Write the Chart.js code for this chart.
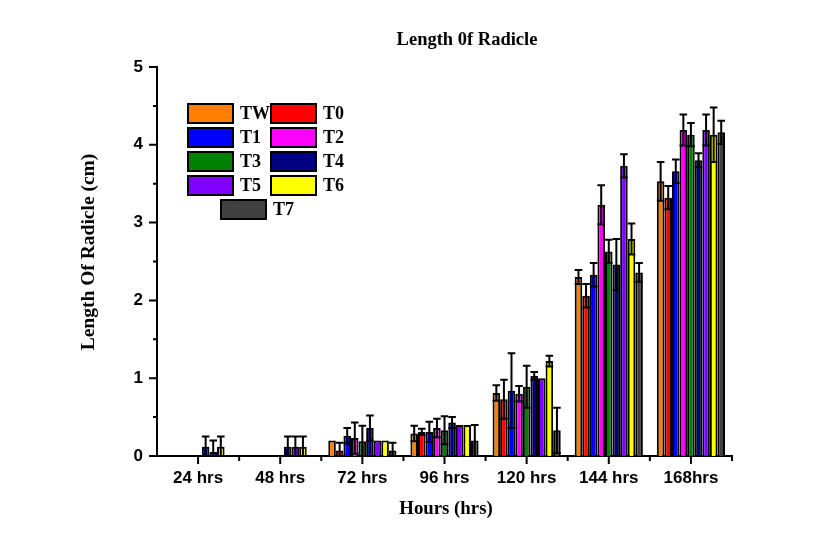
<!DOCTYPE html>
<html lang="en">
<head>
  <meta charset="UTF-8">
  <title>Length 0f Radicle</title>
  <script src="https://cdn.jsdelivr.net/npm/chart.js"></script>
  <style>
    html, body { margin: 0; padding: 0; background: #fff; }
    #wrap { position: relative; width: 838px; height: 539px; }
  </style>
</head>
<body>
  <div id="wrap">
    <canvas id="radicleChart" width="838" height="539"></canvas>
  </div>

  <script>
    // Categories and tick labels
    const hours = ['24 hrs', '48 hrs', '72 hrs', '96 hrs', '120 hrs', '144 hrs', '168hrs'];
    const yTicks = [0, 1, 2, 3, 4, 5];

    // Treatment names and colours
    const treatments = ['TW', 'T0', 'T1', 'T2', 'T3', 'T4', 'T5', 'T6', 'T7'];
    const colors = ['#ff8000', '#ff0000', '#0000ff', '#ff00ff', '#008000', '#000080', '#8000ff', '#ffff00', '#404040'];

    // Mean radicle length (cm), one array per treatment
    const lenTW = [0, 0, 0.20, 0.29, 0.81, 2.30, 3.53];
    const lenT0 = [0, 0, 0.07, 0.31, 0.73, 2.06, 3.32];
    const lenT1 = [0, 0, 0.26, 0.31, 0.84, 2.33, 3.66];
    const lenT2 = [0, 0, 0.23, 0.36, 0.80, 3.23, 4.19];
    const lenT3 = [0, 0, 0.19, 0.33, 0.89, 2.63, 4.13];
    const lenT4 = [0.12, 0.12, 0.36, 0.43, 1.03, 2.46, 3.80];
    const lenT5 = [0.05, 0.12, 0.20, 0.40, 1.00, 3.73, 4.19];
    const lenT6 = [0.12, 0.12, 0.20, 0.40, 1.22, 2.79, 4.13];
    const lenT7 = [0, 0, 0.07, 0.20, 0.33, 2.36, 4.16];

    // Error (± value) for each bar
    const errTW = [0, 0, 0, 0.10, 0.10, 0.09, 0.25];
    const errT0 = [0, 0, 0.10, 0.04, 0.25, 0.15, 0.15];
    const errT1 = [0, 0, 0.10, 0.13, 0.48, 0.15, 0.15];
    const errT2 = [0, 0, 0.20, 0.12, 0.10, 0.25, 0.20];
    const errT3 = [0, 0, 0.20, 0.18, 0.27, 0.15, 0.15];
    const errT4 = [0.13, 0.13, 0.16, 0.07, 0.05, 0.33, 0.09];
    const errT5 = [0.15, 0.13, 0, 0, 0, 0.15, 0.20];
    const errT6 = [0.13, 0.13, 0, 0, 0.07, 0.20, 0.35];
    const errT7 = [0, 0, 0.10, 0.20, 0.29, 0.12, 0.15];

    const lengths = [lenTW, lenT0, lenT1, lenT2, lenT3, lenT4, lenT5, lenT6, lenT7];
    const errors = [errTW, errT0, errT1, errT2, errT3, errT4, errT5, errT6, errT7];

    const serif = '"Liberation Serif", "Times New Roman", serif';
    const sans = '"Liberation Sans", Arial, sans-serif';

    // Error bars with caps, drawn through the y scale
    const errorBars = {
      id: 'errorBars',
      afterDatasetsDraw(chart) {
        const ctx = chart.ctx;
        const y = chart.scales.y;
        ctx.save();
        ctx.strokeStyle = '#000';
        ctx.lineWidth = 2;
        chart.data.datasets.forEach((ds, i) => {
          const meta = chart.getDatasetMeta(i);
          meta.data.forEach((bar, j) => {
            const e = errors[i][j];
            if (!e) return;
            const v = ds.data[j];
            const top = y.getPixelForValue(v + e);
            const bot = y.getPixelForValue(Math.max(v - e, 0));
            const half = bar.width / 2;
            ctx.beginPath();
            ctx.moveTo(bar.x, top); ctx.lineTo(bar.x, bot);
            ctx.moveTo(bar.x - half, top); ctx.lineTo(bar.x + half, top);
            ctx.moveTo(bar.x - half, bot); ctx.lineTo(bar.x + half, bot);
            ctx.stroke();
          });
        });
        ctx.restore();
      }
    };

    // Outward major/minor tick marks on both axes
    const tickMarks = {
      id: 'tickMarks',
      afterDraw(chart) {
        const { ctx, chartArea: a, scales: { x, y } } = chart;
        ctx.save();
        ctx.strokeStyle = '#000';
        ctx.lineWidth = 2;
        ctx.beginPath();
        yTicks.forEach(t => {
          const py = y.getPixelForValue(t);
          ctx.moveTo(a.left, py); ctx.lineTo(a.left - 8, py);
          if (t < 5) {
            const pm = y.getPixelForValue(t + 0.5);
            ctx.moveTo(a.left, pm); ctx.lineTo(a.left - 4, pm);
          }
        });
        const step = x.getPixelForValue(1) - x.getPixelForValue(0);
        hours.forEach((h, i) => {
          const px = x.getPixelForValue(i);
          ctx.moveTo(px, a.bottom); ctx.lineTo(px, a.bottom + 8);
          ctx.moveTo(px + step / 2, a.bottom); ctx.lineTo(px + step / 2, a.bottom + 5);
        });
        ctx.stroke();
        ctx.restore();
      }
    };

    // Title, axis titles and the boxed two-column legend
    const labels = {
      id: 'labels',
      afterDraw(chart) {
        const ctx = chart.ctx;
        ctx.save();
        ctx.fillStyle = '#000';
        ctx.textAlign = 'center';
        ctx.textBaseline = 'middle';
        ctx.font = 'bold 18.5px ' + serif;
        ctx.fillText('Length 0f Radicle', 467, 40);
        ctx.font = 'bold 18.8px ' + serif;
        ctx.fillText('Hours (hrs)', 446, 509);
        ctx.translate(89, 252);
        ctx.rotate(-Math.PI / 2);
        ctx.font = 'bold 19.5px ' + serif;
        ctx.fillText('Length Of Radicle (cm)', 0, 0);
        ctx.restore();

        // legend
        ctx.save();
        ctx.font = 'bold 18px ' + serif;
        ctx.textAlign = 'left';
        ctx.textBaseline = 'middle';
        ctx.lineWidth = 2;
        ctx.strokeStyle = '#000';
        chart.data.datasets.forEach((ds, i) => {
          let bx, by;
          if (i < 8) {
            bx = i % 2 === 0 ? 188 : 271;
            by = 104 + Math.floor(i / 2) * 24;
          } else {
            bx = 221; by = 200;
          }
          ctx.fillStyle = ds.backgroundColor;
          ctx.fillRect(bx, by, 45, 19);
          ctx.strokeRect(bx, by, 45, 19);
          ctx.fillStyle = '#000';
          ctx.fillText(ds.label, bx + 52, by + 10);
        });
        ctx.restore();
      }
    };

    const ctx = document.getElementById('radicleChart').getContext('2d');
    new Chart(ctx, {
      type: 'bar',
      data: {
        labels: hours,
        datasets: treatments.map((name, i) => ({
          label: name,
          data: lengths[i],
          backgroundColor: colors[i],
          borderColor: '#000',
          borderWidth: 2,
          categoryPercentage: 0.83,
          barPercentage: 1.0
        }))
      },
      options: {
        responsive: false,
        animation: false,
        devicePixelRatio: 1,
        layout: { padding: { left: 97, right: 106, top: 67, bottom: 43 } },
        plugins: {
          legend: { display: false },
          title: { display: false },
          tooltip: { enabled: false }
        },
        scales: {
          x: {
            offset: true,
            grid: { display: false, drawTicks: false },
            border: { display: true, color: '#000', width: 2 },
            ticks: {
              color: '#000',
              padding: 12,
              maxRotation: 0,
              autoSkip: false,
              font: { family: sans, size: 17, weight: 'bold' }
            },
            afterFit(scale) { scale.height = 40; }
          },
          y: {
            min: 0,
            max: 5,
            grid: { display: false, drawTicks: false },
            border: { display: true, color: '#000', width: 2 },
            ticks: {
              stepSize: 1,
              color: '#000',
              padding: 14,
              font: { family: sans, size: 17, weight: 'bold' }
            },
            afterFit(scale) { scale.width = 60; }
          }
        }
      },
      plugins: [errorBars, tickMarks, labels]
    });
  </script>
</body>
</html>
